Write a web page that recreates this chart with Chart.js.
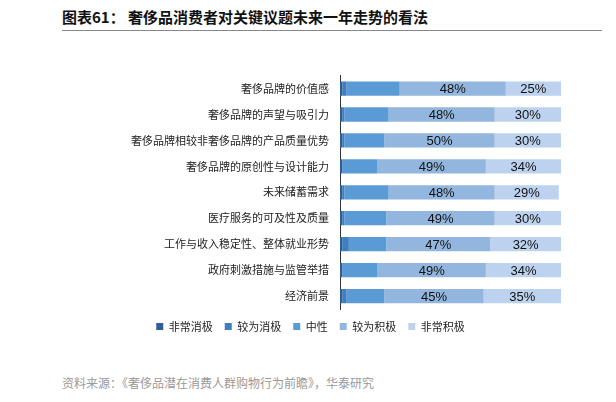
<!DOCTYPE html>
<html><head><meta charset="utf-8">
<script src="https://cdn.jsdelivr.net/npm/chart.js@4/dist/chart.umd.min.js"></script>
<style>
body{margin:0;width:616px;height:402px;background:#fff;font-family:"Noto Sans CJK SC",sans-serif;position:relative;overflow:hidden}
#title{position:absolute;left:62px;top:6px;font-size:15px;font-weight:bold;color:#111}
#line{position:absolute;left:62px;top:30px;width:540px;border-top:1px solid #888}
#src{position:absolute;left:62px;top:374px;font-size:12px;color:#999}
#wrap{position:absolute;left:60px;top:66px;width:520px;height:276px}
</style></head><body>
<div id="title">图表61： 奢侈品消费者对关键议题未来一年走势的看法</div>
<div id="line"></div>
<div id="wrap"><canvas id="c"></canvas></div>
<div id="src">资料来源：《奢侈品潜在消费人群购物行为前瞻》，华泰研究</div>
<script>
const categories = ["奢侈品牌的价值感","奢侈品牌的声望与吸引力","奢侈品牌相较非奢侈品牌的产品质量优势","奢侈品牌的原创性与设计能力","未来储蓄需求","医疗服务的可及性及质量","工作与收入稳定性、整体就业形势","政府刺激措施与监管举措","经济前景"];
const seriesNames = ["非常消极","较为消极","中性","较为积极","非常积极"];
const veryNeg = [1,1,1,1,1,1,1,1,1];
const neg = [2,1,1,0,1,1,3,0,2];
const neutral = [24,20,18,16,20,19,17,16,17];
const pos = [48,48,50,49,48,49,47,49,45];
const veryPos = [25,30,30,34,29,30,32,34,35];
const colors = ["#2f5f98","#3f7fc0","#5b9bd5","#93b6de","#bdd2ee"];
const values = [veryNeg,neg,neutral,pos,veryPos];

const labelPlugin = {
  id:"labels",
  afterDatasetsDraw(chart){
    const ctx = chart.ctx;
    ctx.save();
    ctx.font = "13px Arial, 'Liberation Sans'";
    ctx.fillStyle = "#111";
    ctx.textAlign = "center";
    ctx.textBaseline = "middle";
    [3,4].forEach(di=>{
      chart.getDatasetMeta(di).data.forEach((b,i)=>{
        ctx.fillText(values[di][i]+"%", (b.x+b.base)/2, b.y+1);
      });
    });
    ctx.restore();
  }
};

new Chart(document.getElementById("c"),{
  type:"bar",
  data:{labels:categories,datasets:seriesNames.map((n,i)=>({label:n,data:values[i],backgroundColor:colors[i],barPercentage:0.55,categoryPercentage:1}))},
  options:{
    indexAxis:"y",responsive:true,maintainAspectRatio:false,animation:false,
    layout:{padding:{right:19}},
    scales:{
      x:{stacked:true,min:0,max:100,display:false},
      y:{stacked:true,grid:{display:false},border:{color:"#333"},
         afterFit(s){s.width=280;},
         ticks:{color:"#222",font:{size:11,family:"'Noto Sans CJK SC'"}}}
    },
    plugins:{
      legend:{position:"bottom",labels:{boxWidth:7,boxHeight:7,color:"#222",font:{size:11,family:"'Noto Sans CJK SC'"},padding:12}},
      tooltip:{enabled:false}
    }
  },
  plugins:[labelPlugin]
});
</script>
</body></html>
